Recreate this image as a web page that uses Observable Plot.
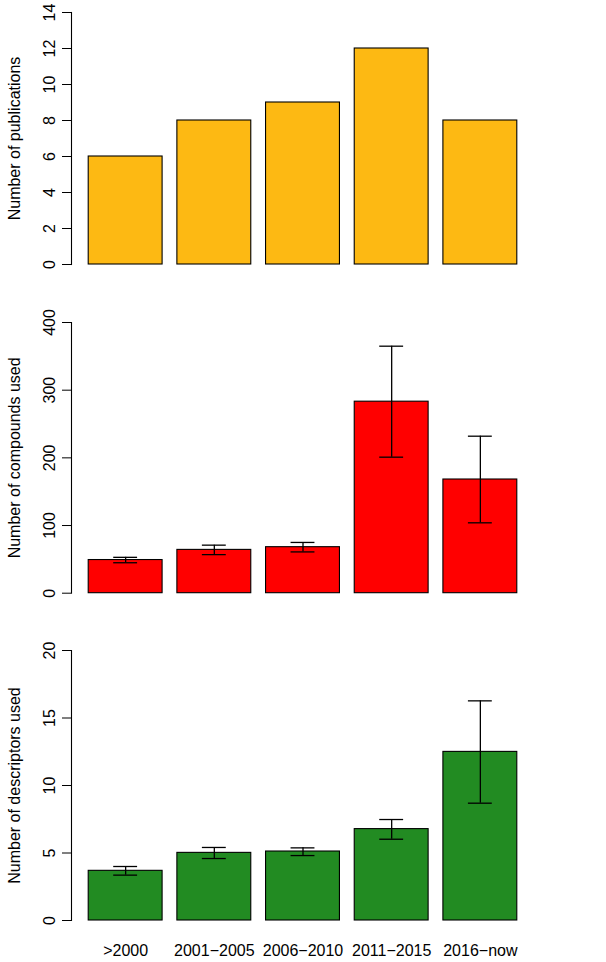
<!DOCTYPE html>
<html><head><meta charset="utf-8">
<script src="https://cdn.jsdelivr.net/npm/d3@7"></script>
<script src="https://cdn.jsdelivr.net/npm/@observablehq/plot@0.6"></script>
<style>
html,body{margin:0;padding:0;background:#fff;}
#chart svg{display:block;}
</style></head><body><div id="chart"></div>
<script>
const periods = [">2000", "2001−2005", "2006−2010", "2011−2015", "2016−now"];
const publications = [6, 8, 9, 12, 8];
const compoundsMean = [49, 64, 68, 283, 168];
const compoundsLow = [45, 57, 61, 201, 104];
const compoundsHigh = [53, 71, 75, 365, 232];
const descriptorsMean = [3.68, 5.01, 5.11, 6.77, 12.49];
const descriptorsLow = [3.36, 4.59, 4.81, 6.02, 8.69];
const descriptorsHigh = [4.0, 5.41, 5.38, 7.48, 16.27];
const pubTicks = [0, 2, 4, 6, 8, 10, 12, 14];
const compTicks = [0, 100, 200, 300, 400];
const descTicks = [0, 5, 10, 15, 20];

function panel({mean, low, high, color, ticks, label, height, marginTop, marginBottom, showX}) {
  const data = periods.map((p, i) => ({period: p, value: mean[i], lo: low ? low[i] : null, hi: high ? high[i] : null}));
  const marks = [
    Plot.barY(data, {x: "period", y: "value", fill: color, stroke: "black", strokeWidth: 1.1}),
    Plot.frame({anchor: "left", stroke: "black", strokeWidth: 1.1}),
    Plot.axisY({ticks, tickSize: 9, tickPadding: 8, tickRotate: -90, label, labelAnchor: "center", labelOffset: 63, labelArrow: false})
  ];
  if (low) {
    marks.push(Plot.ruleX(data, {x: "period", y1: "lo", y2: "hi", stroke: "black", strokeWidth: 1.3}));
    marks.push(Plot.tickY(data, {x: "period", y: "lo", insetLeft: 25, insetRight: 25, stroke: "black", strokeWidth: 1.3}));
    marks.push(Plot.tickY(data, {x: "period", y: "hi", insetLeft: 25, insetRight: 25, stroke: "black", strokeWidth: 1.3}));
  }
  if (showX) marks.push(Plot.axisX({tickSize: 0, tickPadding: 24, label: null}));
  return Plot.plot({
    width: 606, height, marginLeft: 71, marginRight: 72, marginTop, marginBottom,
    style: {fontFamily: "'Liberation Sans', Arial, sans-serif", fontSize: "16px", color: "black", background: "white", overflow: "visible"},
    x: {type: "band", domain: periods, paddingInner: 0.1667, paddingOuter: 0.194, round: false, axis: null},
    y: {domain: [ticks[0], ticks[ticks.length - 1]], axis: null},
    marks
  });
}

const root = document.getElementById("chart");
root.appendChild(panel({mean: publications, color: "#FDB913", ticks: pubTicks, label: "Number of publications", height: 300, marginTop: 12, marginBottom: 36}));
root.appendChild(panel({mean: compoundsMean, low: compoundsLow, high: compoundsHigh, color: "#FF0000", ticks: compTicks, label: "Number of compounds used", height: 320, marginTop: 22, marginBottom: 27.3}));
root.appendChild(panel({mean: descriptorsMean, low: descriptorsLow, high: descriptorsHigh, color: "#228B22", ticks: descTicks, label: "Number of descriptors used", height: 342, marginTop: 30, marginBottom: 42, showX: true}));
</script></body></html>
